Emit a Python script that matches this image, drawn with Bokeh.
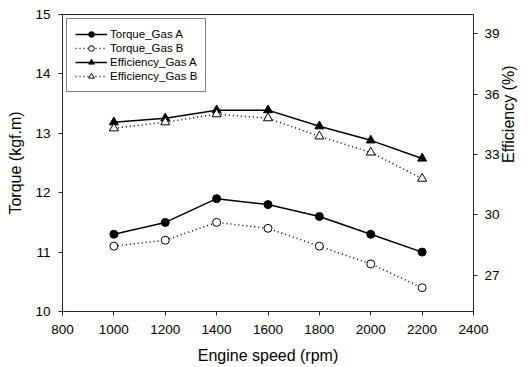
import math
from bokeh.plotting import figure
from bokeh.models import Range1d, LinearAxis, FixedTicker, Legend, LegendItem
from bokeh.embed import file_html
from bokeh.resources import INLINE

rpm = [1000, 1200, 1400, 1600, 1800, 2000, 2200]
torque_a = [11.3, 11.5, 11.9, 11.8, 11.6, 11.3, 11.0]
torque_b = [11.1, 11.2, 11.5, 11.4, 11.1, 10.8, 10.4]
eff_a = [34.6, 34.8, 35.2, 35.2, 34.4, 33.7, 32.8]
eff_b = [34.3, 34.6, 35.0, 34.8, 33.9, 33.1, 31.8]
x_ticks = [800, 1000, 1200, 1400, 1600, 1800, 2000, 2200, 2400]
torque_ticks = [10, 11, 12, 13, 14, 15]
eff_ticks = [27, 30, 33, 36, 39]
eff_lo, eff_hi = 25.2, 39.95

FONT = "Liberation Sans"
AX = "#222222"

p = figure(width=528, height=367, output_backend="svg", toolbar_location=None,
           x_range=Range1d(800, 2400), y_range=Range1d(10, 15),
           min_border_left=62, min_border_right=54, min_border_top=14, min_border_bottom=56)
p.extra_y_ranges = {"eff": Range1d(eff_lo, eff_hi)}
p.grid.visible = False
p.outline_line_color = AX
p.outline_line_width = 1
p.background_fill_color = "white"
p.border_fill_color = "white"

def style(ax, ticks):
    ax.ticker = FixedTicker(ticks=ticks)
    ax.major_tick_in = 0
    ax.major_tick_out = 4
    ax.minor_tick_line_color = None
    ax.axis_line_color = AX
    ax.major_tick_line_color = AX
    ax.major_label_text_font = FONT
    ax.major_label_text_font_size = "13.5px"
    ax.major_label_text_color = "black"
    ax.axis_label_text_font = FONT
    ax.axis_label_text_font_size = "16px"
    ax.axis_label_text_font_style = "normal"
    ax.axis_label_text_color = "black"

style(p.xaxis[0], x_ticks)
p.xaxis[0].axis_label = "Engine speed (rpm)"
p.xaxis[0].major_label_standoff = 9
p.xaxis[0].axis_label_standoff = 10

style(p.yaxis[0], torque_ticks)
p.yaxis[0].axis_label = "Torque (kgf.m)"
p.yaxis[0].major_label_standoff = 8
p.yaxis[0].axis_label_standoff = 8

ax2 = LinearAxis(y_range_name="eff")
style(ax2, eff_ticks)
ax2.major_label_standoff = 7
p.add_layout(ax2, "right")

# right-hand title, reading bottom-to-top, drawn as the single label of a bare axis
mid = (eff_lo + eff_hi) / 2
ax3 = LinearAxis(y_range_name="eff")
ax3.ticker = FixedTicker(ticks=[mid])
ax3.major_label_overrides = {mid: "Efficiency (%)"}
ax3.major_label_orientation = math.pi / 2
ax3.axis_line_color = None
ax3.major_tick_line_color = None
ax3.minor_tick_line_color = None
ax3.major_tick_in = 0
ax3.major_tick_out = 0
ax3.major_label_standoff = 6
ax3.major_label_text_font = FONT
ax3.major_label_text_font_size = "16px"
ax3.major_label_text_color = "black"
p.add_layout(ax3, "right")

l1 = p.line(rpm, torque_a, line_color="black", line_width=1.5)
m1 = p.scatter(rpm, torque_a, marker="circle", size=8, fill_color="black", line_color="black")
l2 = p.line(rpm, torque_b, line_color="black", line_width=1.5, line_dash="1 3")
m2 = p.scatter(rpm, torque_b, marker="circle", size=8, fill_color="white", line_color="black", line_width=1)
l3 = p.line(rpm, eff_a, y_range_name="eff", line_color="black", line_width=1.5)
m3 = p.scatter(rpm, eff_a, y_range_name="eff", marker="triangle", size=9, fill_color="black", line_color="black")
l4 = p.line(rpm, eff_b, y_range_name="eff", line_color="black", line_width=1.5, line_dash="1 3")
m4 = p.scatter(rpm, eff_b, y_range_name="eff", marker="triangle", size=9, fill_color="white", line_color="black", line_width=1)

legend = Legend(items=[
    LegendItem(label="Torque_Gas A", renderers=[l1, m1]),
    LegendItem(label="Torque_Gas B", renderers=[l2, m2]),
    LegendItem(label="Efficiency_Gas A", renderers=[l3, m3]),
    LegendItem(label="Efficiency_Gas B", renderers=[l4, m4]),
], location="top_left")
legend.margin = 4
legend.padding = 8
legend.spacing = 0
legend.glyph_width = 32
legend.glyph_height = 14
legend.label_height = 14
legend.label_standoff = 3
legend.label_text_font = FONT
legend.label_text_font_size = "11.5px"
legend.label_text_color = "black"
legend.border_line_color = "black"
legend.border_line_width = 1
legend.background_fill_color = "white"
legend.background_fill_alpha = 1
p.add_layout(legend, "center")

open("out.html", "w").write(file_html(p, INLINE))
